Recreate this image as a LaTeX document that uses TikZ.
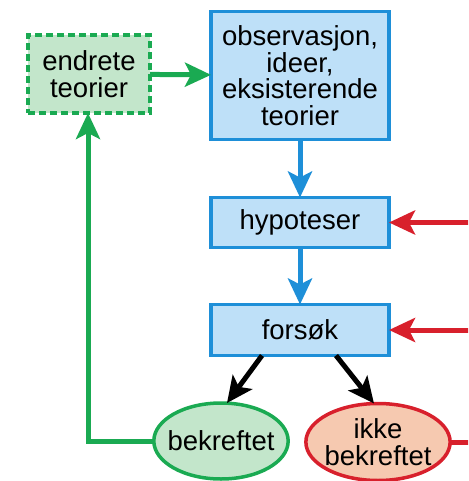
\documentclass[tikz,border=0pt]{standalone}
\usepackage{fontspec}
\setmainfont{Liberation Sans}
\usepackage{xcolor}
\usepackage{tikz}
\usetikzlibrary{arrows.meta,positioning,shapes.geometric}

\definecolor{boxblue}{HTML}{1E8FD8}
\definecolor{fillblue}{HTML}{BEE0F8}
\definecolor{boxgreen}{HTML}{1AAA52}
\definecolor{fillgreen}{HTML}{C3E6CB}
\definecolor{boxred}{HTML}{D8202C}
\definecolor{fillred}{HTML}{F6C9B0}

\begin{document}
\begin{tikzpicture}[
  x=1pt, y=-1pt,
  font=\fontsize{27.5}{26.5}\selectfont,
  stepblk/.style={draw=boxblue, fill=fillblue, line width=3.5pt, align=center,
               minimum width=178pt, inner sep=0pt, outer sep=0pt},
  oval/.style={ellipse, line width=3.5pt, align=center, inner ysep=0pt, outer sep=0pt},
  arrow/.style={-{Stealth[length=26pt, width=24pt, inset=6pt]}, line width=5pt}
]
\useasboundingbox (0,0) rectangle (468,481);
\clip (0,0) rectangle (468,481);

\node[stepblk, minimum height=128pt] (obs) at (300,75.5) {observasjon,\\ ideer,\\ eksisterende\\ teorier};
\node[stepblk, minimum height=50pt, below=58pt of obs] (hyp) {hypoteser};
\node[stepblk, minimum height=51pt, below=57pt of hyp] (forsok) {forsøk};
\node[draw=boxgreen, fill=fillgreen, line width=3.5pt, dash pattern=on 7pt off 4pt,
      align=center, minimum width=122pt, minimum height=78pt, inner sep=0pt,
      outer sep=0pt] (endret) at (89,74) {endrete\\ teorier};

\node[oval, draw=boxgreen, fill=fillgreen, inner xsep=-6pt, minimum height=76pt]
  (bekr) at (221,441) {bekreftet};
\node[oval, draw=boxred, fill=fillred, inner xsep=-2.5pt, minimum height=77pt]
  (ikke) at (378,442) {ikke\\ bekreftet};

\coordinate (redge) at (480,0);
\coordinate (gcorner) at (88,0);

\draw[arrow, boxblue] (obs) -- (hyp);
\draw[arrow, boxblue] (hyp) -- (forsok);
\draw[arrow, boxgreen] (endret) -- (obs);
\draw[arrow, boxgreen] (bekr.west) -- (gcorner |- bekr.west) -- (endret.south -| gcorner);
\draw[arrow, black] ([xshift=-38pt]forsok.south) -- ([xshift=6pt]bekr.north);
\draw[arrow, black] ([xshift=36pt]forsok.south) -- ([xshift=-4pt]ikke.north);
\draw[arrow, boxred] (redge |- hyp.east) -- (hyp.east);
\draw[arrow, boxred] (redge |- forsok.east) -- (forsok.east);
\draw[line width=5pt, boxred] (ikke.east) -- (redge |- ikke.east);
\end{tikzpicture}
\end{document}
